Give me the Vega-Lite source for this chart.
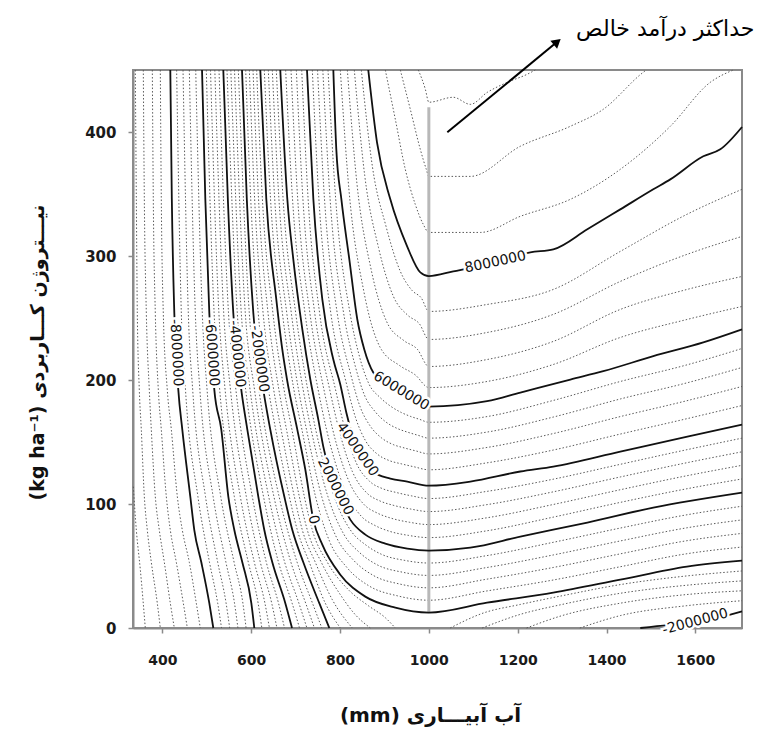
{
"$schema":"https://vega.github.io/schema/vega-lite/v6.json",
"width":609,"height":558,
"autosize":{"type":"none"},
"padding":{"left":133,"top":70,"right":27,"bottom":103},
"background":"white",
"config":{"view":{"stroke":"#8a8a8a","strokeWidth":2},"font":"DejaVu Sans"},
"datasets":{
"minor":[
{"k":"h1","x":395.5,"y":450},{"k":"h1","x":397.7,"y":346},{"k":"h1","x":402.2,"y":254},{"k":"h1","x":411.2,"y":192},{"k":"h1","x":420.3,"y":160},{"k":"h1","x":433.8,"y":106},{"k":"h1","x":445,"y":79},{"k":"h1","x":460.8,"y":53},{"k":"h1","x":476.5,"y":20},{"k":"h1","x":485.5,"y":0},
{"k":"h2","x":377.5,"y":450},{"k":"h2","x":379.7,"y":346},{"k":"h2","x":384.2,"y":254},{"k":"h2","x":391,"y":192},{"k":"h2","x":397.7,"y":160},{"k":"h2","x":409,"y":106},{"k":"h2","x":418,"y":79},{"k":"h2","x":431.5,"y":53},{"k":"h2","x":447.3,"y":20},{"k":"h2","x":456.3,"y":0},
{"k":"h3","x":357.2,"y":450},{"k":"h3","x":359.5,"y":346},{"k":"h3","x":364,"y":254},{"k":"h3","x":370.7,"y":192},{"k":"h3","x":375.2,"y":160},{"k":"h3","x":384.2,"y":106},{"k":"h3","x":393.2,"y":79},{"k":"h3","x":404.5,"y":53},{"k":"h3","x":418,"y":20},{"k":"h3","x":427,"y":0},
{"k":"h4","x":339.2,"y":450},{"k":"h4","x":341.5,"y":346},{"k":"h4","x":343.7,"y":254},{"k":"h4","x":348.2,"y":192},{"k":"h4","x":352.7,"y":160},{"k":"h4","x":359.5,"y":106},{"k":"h4","x":366.2,"y":79},{"k":"h4","x":375.2,"y":53},{"k":"h4","x":388.7,"y":20},{"k":"h4","x":395.5,"y":0},
{"k":"h5","x":334.7,"y":114},{"k":"h5","x":341.5,"y":79},{"k":"h5","x":350.5,"y":47},{"k":"h5","x":361.7,"y":0},
{"k":"d1","x":432.2,"y":450},{"k":"d1","x":442.8,"y":254},{"k":"d1","x":452.2,"y":192},{"k":"d1","x":480.1,"y":106},{"k":"d1","x":506.2,"y":53},{"k":"d1","x":524.7,"y":20},{"k":"d1","x":533.3,"y":0},
{"k":"d2","x":446.6,"y":450},{"k":"d2","x":458.5,"y":254},{"k":"d2","x":468.4,"y":192},{"k":"d2","x":497.2,"y":106},{"k":"d2","x":524.7,"y":53},{"k":"d2","x":543.6,"y":20},{"k":"d2","x":551.7,"y":0},
{"k":"d3","x":460.8,"y":450},{"k":"d3","x":474.3,"y":254},{"k":"d3","x":484.6,"y":192},{"k":"d3","x":514.4,"y":106},{"k":"d3","x":543.2,"y":53},{"k":"d3","x":562.5,"y":20},{"k":"d3","x":570.2,"y":0},
{"k":"d4","x":475.2,"y":450},{"k":"d4","x":490,"y":254},{"k":"d4","x":500.8,"y":192},{"k":"d4","x":531.5,"y":106},{"k":"d4","x":561.6,"y":53},{"k":"d4","x":581.4,"y":20},{"k":"d4","x":588.6,"y":0},
{"k":"e1","x":499,"y":450},{"k":"e1","x":516.6,"y":254},{"k":"e1","x":529.2,"y":192},{"k":"e1","x":562.1,"y":106},{"k":"e1","x":593.6,"y":53},{"k":"e1","x":615.7,"y":20},{"k":"e1","x":624,"y":0},
{"k":"e2","x":508.5,"y":450},{"k":"e2","x":527.4,"y":254},{"k":"e2","x":541.4,"y":192},{"k":"e2","x":575.6,"y":106},{"k":"e2","x":607.1,"y":53},{"k":"e2","x":631,"y":20},{"k":"e2","x":641.1,"y":0},
{"k":"e3","x":518.2,"y":450},{"k":"e3","x":538.2,"y":254},{"k":"e3","x":553.5,"y":192},{"k":"e3","x":589.1,"y":106},{"k":"e3","x":620.6,"y":53},{"k":"e3","x":646.3,"y":20},{"k":"e3","x":658,"y":0},
{"k":"e4","x":527.6,"y":450},{"k":"e4","x":549,"y":254},{"k":"e4","x":565.7,"y":192},{"k":"e4","x":602.6,"y":106},{"k":"e4","x":634.1,"y":53},{"k":"e4","x":661.6,"y":20},{"k":"e4","x":675.1,"y":0},
{"k":"g1","x":545.6,"y":450},{"k":"g1","x":568.8,"y":254},{"k":"g1","x":587.7,"y":192},{"k":"g1","x":627.8,"y":106},{"k":"g1","x":661.6,"y":53},{"k":"g1","x":692.2,"y":20},{"k":"g1","x":708.9,"y":0},
{"k":"g2","x":554.2,"y":450},{"k":"g2","x":577.8,"y":254},{"k":"g2","x":597.6,"y":192},{"k":"g2","x":639.5,"y":106},{"k":"g2","x":675.5,"y":53},{"k":"g2","x":707.5,"y":20},{"k":"g2","x":725.5,"y":0},
{"k":"g3","x":562.5,"y":450},{"k":"g3","x":586.8,"y":254},{"k":"g3","x":607.6,"y":192},{"k":"g3","x":651.2,"y":106},{"k":"g3","x":689.5,"y":53},{"k":"g3","x":722.8,"y":20},{"k":"g3","x":742.4,"y":0},
{"k":"g4","x":571.1,"y":450},{"k":"g4","x":595.8,"y":254},{"k":"g4","x":617.5,"y":192},{"k":"g4","x":662.9,"y":106},{"k":"g4","x":703.5,"y":53},{"k":"g4","x":738.1,"y":20},{"k":"g4","x":759.1,"y":0},
{"k":"n1","x":587.7,"y":450},{"k":"n1","x":599,"y":346},{"k":"n1","x":615.9,"y":254},{"k":"n1","x":639.1,"y":192},{"k":"n1","x":655.3,"y":160},{"k":"n1","x":685.9,"y":106},{"k":"n1","x":703.9,"y":79},{"k":"n1","x":730.9,"y":53},{"k":"n1","x":766.9,"y":20},{"k":"n1","x":800.7,"y":0},
{"k":"n2","x":595.9,"y":450},{"k":"n2","x":607.8,"y":346},{"k":"n2","x":626.9,"y":254},{"k":"n2","x":650.8,"y":192},{"k":"n2","x":667.4,"y":160},{"k":"n2","x":697.2,"y":106},{"k":"n2","x":715.2,"y":79},{"k":"n2","x":744.4,"y":53},{"k":"n2","x":782.7,"y":22.8},{"k":"n2","x":827.7,"y":0},
{"k":"n3","x":604.2,"y":450},{"k":"n3","x":616.6,"y":346},{"k":"n3","x":638,"y":254},{"k":"n3","x":662.5,"y":192},{"k":"n3","x":679.6,"y":160},{"k":"n3","x":708.4,"y":106},{"k":"n3","x":726.4,"y":79},{"k":"n3","x":757.9,"y":53},{"k":"n3","x":800.7,"y":26.9},{"k":"n3","x":834.5,"y":10.7},{"k":"n3","x":868.3,"y":0},
{"k":"n4","x":612.3,"y":450},{"k":"n4","x":625.3,"y":346},{"k":"n4","x":649,"y":254},{"k":"n4","x":674.2,"y":192},{"k":"n4","x":691.8,"y":160},{"k":"n4","x":719.7,"y":106},{"k":"n4","x":737.7,"y":79},{"k":"n4","x":771.5,"y":53},{"k":"n4","x":818.8,"y":30.9},{"k":"n4","x":863.8,"y":18},{"k":"n4","x":902,"y":8.3},{"k":"n4","x":924.5,"y":0},
{"k":"c1","x":629.6,"y":450},{"k":"c1","x":643.6,"y":346},{"k":"c1","x":670.1,"y":254.5},{"k":"c1","x":696.2,"y":192.3},{"k":"c1","x":714.3,"y":160},{"k":"c1","x":744.9,"y":106},{"k":"c1","x":776.4,"y":70},{"k":"c1","x":815.1,"y":49},{"k":"c1","x":866,"y":33.8},{"k":"c1","x":929.9,"y":25.9},{"k":"c1","x":1000,"y":22.4},{"k":"c1","x":1131,"y":29.9},{"k":"c1","x":1280,"y":38.7},{"k":"c1","x":1431,"y":49.4},{"k":"c1","x":1581,"y":59.9},{"k":"c1","x":1705,"y":65.3},
{"k":"c2","x":638.6,"y":450},{"k":"c2","x":653,"y":346},{"k":"c2","x":680,"y":254.5},{"k":"c2","x":706.6,"y":192.3},{"k":"c2","x":724.6,"y":160},{"k":"c2","x":758.8,"y":106},{"k":"c2","x":792.6,"y":72.7},{"k":"c2","x":829.5,"y":55},{"k":"c2","x":875,"y":42.4},{"k":"c2","x":935.3,"y":35.4},{"k":"c2","x":1000,"y":32.4},{"k":"c2","x":1131,"y":39.4},{"k":"c2","x":1280,"y":48.8},{"k":"c2","x":1431,"y":59.8},{"k":"c2","x":1581,"y":70.4},{"k":"c2","x":1705,"y":76.3},
{"k":"c3","x":647.6,"y":450},{"k":"c3","x":662.5,"y":346},{"k":"c3","x":690.2,"y":254.5},{"k":"c3","x":717,"y":192.3},{"k":"c3","x":735,"y":160},{"k":"c3","x":772.8,"y":106},{"k":"c3","x":808.8,"y":75.5},{"k":"c3","x":843.9,"y":60.9},{"k":"c3","x":884,"y":50.9},{"k":"c3","x":940.7,"y":45},{"k":"c3","x":1000,"y":42.4},{"k":"c3","x":1131,"y":48.8},{"k":"c3","x":1280,"y":58.9},{"k":"c3","x":1431,"y":70.2},{"k":"c3","x":1581,"y":80.8},{"k":"c3","x":1705,"y":87.2},
{"k":"c4","x":656.6,"y":450},{"k":"c4","x":671.9,"y":346},{"k":"c4","x":700.1,"y":254.5},{"k":"c4","x":727.3,"y":192.3},{"k":"c4","x":745.3,"y":160},{"k":"c4","x":786.7,"y":106},{"k":"c4","x":825,"y":78.2},{"k":"c4","x":858.3,"y":66.9},{"k":"c4","x":893,"y":59.5},{"k":"c4","x":946.1,"y":54.5},{"k":"c4","x":1000,"y":52.4},{"k":"c4","x":1131,"y":58.4},{"k":"c4","x":1280,"y":69.1},{"k":"c4","x":1431,"y":80.6},{"k":"c4","x":1581,"y":91.3},{"k":"c4","x":1705,"y":98.2},
{"k":"p1","x":677.6,"y":450},{"k":"p1","x":693.1,"y":346},{"k":"p1","x":721,"y":254.5},{"k":"p1","x":750.7,"y":192.3},{"k":"p1","x":769.7,"y":160},{"k":"p1","x":809.7,"y":112.7},{"k":"p1","x":847.5,"y":90.3},{"k":"p1","x":878.6,"y":82.7},{"k":"p1","x":907.9,"y":78.4},{"k":"p1","x":953.8,"y":74.7},{"k":"p1","x":1000,"y":72.9},{"k":"p1","x":1131,"y":78.4},{"k":"p1","x":1280,"y":89.4},{"k":"p1","x":1431,"y":101.3},{"k":"p1","x":1581,"y":112.3},{"k":"p1","x":1705,"y":120.2},
{"k":"p2","x":689.7,"y":450},{"k":"p2","x":704.8,"y":346},{"k":"p2","x":732,"y":254.5},{"k":"p2","x":763.8,"y":192.3},{"k":"p2","x":783.6,"y":160},{"k":"p2","x":818.7,"y":119.5},{"k":"p2","x":853.8,"y":99.7},{"k":"p2","x":884.5,"y":92.6},{"k":"p2","x":913.7,"y":88.7},{"k":"p2","x":956,"y":85.3},{"k":"p2","x":1000,"y":83.4},{"k":"p2","x":1131,"y":88.9},{"k":"p2","x":1280,"y":99.6},{"k":"p2","x":1431,"y":111.5},{"k":"p2","x":1581,"y":122.8},{"k":"p2","x":1705,"y":131.2},
{"k":"p3","x":701.7,"y":450},{"k":"p3","x":716.5,"y":346},{"k":"p3","x":742.9,"y":254.5},{"k":"p3","x":776.8,"y":192.3},{"k":"p3","x":797.6,"y":160},{"k":"p3","x":827.7,"y":126.3},{"k":"p3","x":860.1,"y":109},{"k":"p3","x":890.3,"y":102.4},{"k":"p3","x":919.6,"y":99},{"k":"p3","x":958.3,"y":96},{"k":"p3","x":1000,"y":93.9},{"k":"p3","x":1131,"y":99.5},{"k":"p3","x":1280,"y":109.8},{"k":"p3","x":1431,"y":121.8},{"k":"p3","x":1581,"y":133.3},{"k":"p3","x":1705,"y":142.1},
{"k":"p4","x":713.8,"y":450},{"k":"p4","x":728.2,"y":346},{"k":"p4","x":753.9,"y":254.5},{"k":"p4","x":789.9,"y":192.3},{"k":"p4","x":811.5,"y":160},{"k":"p4","x":836.7,"y":133.1},{"k":"p4","x":866.4,"y":118.4},{"k":"p4","x":896.2,"y":112.3},{"k":"p4","x":925.4,"y":109.4},{"k":"p4","x":960.5,"y":106.6},{"k":"p4","x":1000,"y":104.4},{"k":"p4","x":1131,"y":110.2},{"k":"p4","x":1280,"y":120},{"k":"p4","x":1431,"y":132},{"k":"p4","x":1581,"y":143.8},{"k":"p4","x":1705,"y":153.1},
{"k":"q1","x":737.7,"y":450},{"k":"q1","x":752.5,"y":346},{"k":"q1","x":779.1,"y":254.5},{"k":"q1","x":813.3,"y":198.8},{"k":"q1","x":835.4,"y":169.2},{"k":"q1","x":857,"y":151.3},{"k":"q1","x":883.1,"y":140.5},{"k":"q1","x":911,"y":135},{"k":"q1","x":938,"y":132.4},{"k":"q1","x":966.8,"y":130},{"k":"q1","x":1000,"y":127.6},{"k":"q1","x":1131,"y":133.2},{"k":"q1","x":1280,"y":143.5},{"k":"q1","x":1431,"y":156.4},{"k":"q1","x":1581,"y":168.8},{"k":"q1","x":1705,"y":179.4},
{"k":"q2","x":749.4,"y":450},{"k":"q2","x":765.1,"y":346},{"k":"q2","x":793.5,"y":254.5},{"k":"q2","x":823.7,"y":205.2},{"k":"q2","x":845.3,"y":178.4},{"k":"q2","x":868.2,"y":162.8},{"k":"q2","x":893.5,"y":153.3},{"k":"q2","x":920,"y":147.9},{"k":"q2","x":944.8,"y":145.2},{"k":"q2","x":970.9,"y":142.8},{"k":"q2","x":1000,"y":140.4},{"k":"q2","x":1131,"y":145.6},{"k":"q2","x":1280,"y":156.8},{"k":"q2","x":1431,"y":170.5},{"k":"q2","x":1581,"y":183.3},{"k":"q2","x":1705,"y":194.8},
{"k":"q3","x":761.3,"y":450},{"k":"q3","x":777.7,"y":346},{"k":"q3","x":807.9,"y":254.5},{"k":"q3","x":834,"y":211.7},{"k":"q3","x":855.2,"y":187.7},{"k":"q3","x":879.5,"y":174.3},{"k":"q3","x":903.8,"y":166},{"k":"q3","x":929,"y":160.9},{"k":"q3","x":951.5,"y":158},{"k":"q3","x":974.9,"y":155.5},{"k":"q3","x":1000,"y":153.1},{"k":"q3","x":1131,"y":158},{"k":"q3","x":1280,"y":170.1},{"k":"q3","x":1431,"y":184.7},{"k":"q3","x":1581,"y":197.7},{"k":"q3","x":1705,"y":210.1},
{"k":"q4","x":773,"y":450},{"k":"q4","x":790.3,"y":346},{"k":"q4","x":822.3,"y":254.5},{"k":"q4","x":844.4,"y":218.2},{"k":"q4","x":865.1,"y":196.9},{"k":"q4","x":890.8,"y":185.7},{"k":"q4","x":914.2,"y":178.8},{"k":"q4","x":938,"y":173.8},{"k":"q4","x":958.3,"y":170.7},{"k":"q4","x":979,"y":168.3},{"k":"q4","x":1000,"y":165.9},{"k":"q4","x":1131,"y":170.5},{"k":"q4","x":1280,"y":183.5},{"k":"q4","x":1431,"y":198.8},{"k":"q4","x":1581,"y":212.2},{"k":"q4","x":1705,"y":225.4},
{"k":"r1","x":800.7,"y":450},{"k":"r1","x":820.5,"y":352.1},{"k":"r1","x":853.4,"y":271.9},{"k":"r1","x":890.1,"y":226.5},{"k":"r1","x":934,"y":211.7},{"k":"r1","x":969.5,"y":204.1},{"k":"r1","x":1000,"y":193.9},{"k":"r1","x":1131,"y":198.8},{"k":"r1","x":1280,"y":212.5},{"k":"r1","x":1431,"y":234.3},{"k":"r1","x":1581,"y":248.8},{"k":"r1","x":1705,"y":259.3},
{"k":"r2","x":816.5,"y":450},{"k":"r2","x":838.1,"y":358.6},{"k":"r2","x":870,"y":289.3},{"k":"r2","x":905.4,"y":246.8},{"k":"r2","x":943.4,"y":231.9},{"k":"r2","x":974.1,"y":224.8},{"k":"r2","x":1000,"y":210.9},{"k":"r2","x":1131,"y":216.5},{"k":"r2","x":1280,"y":231.1},{"k":"r2","x":1431,"y":256.9},{"k":"r2","x":1581,"y":273},{"k":"r2","x":1705,"y":283.5},
{"k":"r3","x":832.2,"y":450},{"k":"r3","x":855.6,"y":365.1},{"k":"r3","x":886.7,"y":306.8},{"k":"r3","x":920.5,"y":267.2},{"k":"r3","x":952.9,"y":252.1},{"k":"r3","x":978.6,"y":245.4},{"k":"r3","x":1000,"y":232.7},{"k":"r3","x":1131,"y":238.3},{"k":"r3","x":1280,"y":252.9},{"k":"r3","x":1431,"y":279.5},{"k":"r3","x":1581,"y":301.3},{"k":"r3","x":1705,"y":315.8},
{"k":"r4","x":848,"y":450},{"k":"r4","x":873.2,"y":371.5},{"k":"r4","x":903.4,"y":324.2},{"k":"r4","x":935.8,"y":287.6},{"k":"r4","x":962.3,"y":272.2},{"k":"r4","x":983.1,"y":266.1},{"k":"r4","x":1000,"y":255.3},{"k":"r4","x":1131,"y":260.9},{"k":"r4","x":1280,"y":273},{"k":"r4","x":1431,"y":303.7},{"k":"r4","x":1581,"y":333.6},{"k":"r4","x":1705,"y":353.8},
{"k":"t1","x":902,"y":450},{"k":"t1","x":924.5,"y":410.3},{"k":"t1","x":947,"y":369.9},{"k":"t1","x":969.5,"y":341.6},{"k":"t1","x":987.5,"y":325.5},{"k":"t1","x":1000,"y":319},{"k":"t1","x":1115.9,"y":319},{"k":"t1","x":1206,"y":332},{"k":"t1","x":1318.5,"y":345.7},{"k":"t1","x":1431,"y":369.9},{"k":"t1","x":1543.6,"y":404.6},{"k":"t1","x":1633.7,"y":440.1},{"k":"t1","x":1685.4,"y":450},
{"k":"t2","x":935.8,"y":450},{"k":"t2","x":958.3,"y":418.3},{"k":"t2","x":980.8,"y":386},{"k":"t2","x":994.3,"y":369.9},{"k":"t2","x":1000,"y":364.2},{"k":"t2","x":1093.4,"y":364.2},{"k":"t2","x":1206,"y":388.5},{"k":"t2","x":1318.5,"y":404.6},{"k":"t2","x":1392.7,"y":418.3},{"k":"t2","x":1482.8,"y":448.2},{"k":"t2","x":1489.5,"y":450},
{"k":"t3","x":976.3,"y":450},{"k":"t3","x":992.1,"y":434.5},{"k":"t3","x":1000,"y":424},{"k":"t3","x":1055.1,"y":428},{"k":"t3","x":1093.4,"y":422.3},{"k":"t3","x":1131.6,"y":432},{"k":"t3","x":1176.7,"y":440.1},{"k":"t3","x":1221.7,"y":446.6},{"k":"t3","x":1239.7,"y":450},
{"k":"s1","x":1048,"y":0},{"k":"s1","x":1122,"y":12},{"k":"s1","x":1206,"y":19},{"k":"s1","x":1300,"y":26},{"k":"s1","x":1431,"y":35},{"k":"s1","x":1581,"y":42},{"k":"s1","x":1705,"y":46},
{"k":"s2","x":1120,"y":0},{"k":"s2","x":1206,"y":11},{"k":"s2","x":1300,"y":19},{"k":"s2","x":1431,"y":28},{"k":"s2","x":1581,"y":34.5},{"k":"s2","x":1705,"y":38},
{"k":"s3","x":1220,"y":0},{"k":"s3","x":1300,"y":10},{"k":"s3","x":1431,"y":20},{"k":"s3","x":1581,"y":27},{"k":"s3","x":1705,"y":30},
{"k":"s4","x":1340,"y":0},{"k":"s4","x":1431,"y":10},{"k":"s4","x":1581,"y":18},{"k":"s4","x":1705,"y":22}
],
"major":[
{"k":"m8n","x":418,"y":450},{"k":"m8n","x":421.4,"y":346},{"k":"m8n","x":427,"y":254},{"k":"m8n","x":436,"y":192},{"k":"m8n","x":445,"y":160},{"k":"m8n","x":463,"y":106},{"k":"m8n","x":472,"y":79},{"k":"m8n","x":487.8,"y":53},{"k":"m8n","x":505.8,"y":20},{"k":"m8n","x":514.8,"y":0},
{"k":"m6n","x":489.4,"y":450},{"k":"m6n","x":496.8,"y":346},{"k":"m6n","x":505.8,"y":254},{"k":"m6n","x":517.1,"y":192},{"k":"m6n","x":532.8,"y":160},{"k":"m6n","x":548.6,"y":106},{"k":"m6n","x":562.1,"y":79},{"k":"m6n","x":580.1,"y":53},{"k":"m6n","x":600.4,"y":20},{"k":"m6n","x":607.1,"y":0},
{"k":"m4n","x":537.3,"y":450},{"k":"m4n","x":547.5,"y":346},{"k":"m4n","x":559.8,"y":254},{"k":"m4n","x":577.8,"y":192},{"k":"m4n","x":591.4,"y":160},{"k":"m4n","x":616.1,"y":106},{"k":"m4n","x":629.6,"y":79},{"k":"m4n","x":647.6,"y":53},{"k":"m4n","x":676.9,"y":20},{"k":"m4n","x":692,"y":0},
{"k":"m2n","x":579.4,"y":450},{"k":"m2n","x":590.2,"y":346},{"k":"m2n","x":604.9,"y":254},{"k":"m2n","x":627.4,"y":192},{"k":"m2n","x":643.1,"y":160},{"k":"m2n","x":674.6,"y":106},{"k":"m2n","x":692.7,"y":79},{"k":"m2n","x":717.4,"y":53},{"k":"m2n","x":753.4,"y":20},{"k":"m2n","x":775.9,"y":0},
{"k":"m0","x":620.6,"y":450},{"k":"m0","x":634.1,"y":346},{"k":"m0","x":656.6,"y":265},{"k":"m0","x":670.1,"y":224.6},{"k":"m0","x":680.7,"y":200.4},{"k":"m0","x":703.9,"y":160},{"k":"m0","x":721.9,"y":127.8},{"k":"m0","x":739.9,"y":87.4},{"k":"m0","x":760.2,"y":67.2},{"k":"m0","x":800.7,"y":43},{"k":"m0","x":857,"y":25.3},{"k":"m0","x":924.5,"y":16.4},{"k":"m0","x":1000,"y":12.4},{"k":"m0","x":1131,"y":20.4},{"k":"m0","x":1280,"y":28.5},{"k":"m0","x":1431,"y":39},{"k":"m0","x":1581,"y":49.5},{"k":"m0","x":1705,"y":54.3},
{"k":"m2","x":665.6,"y":450},{"k":"m2","x":681.4,"y":346},{"k":"m2","x":694.9,"y":297.3},{"k":"m2","x":715.2,"y":240.8},{"k":"m2","x":733.2,"y":200.4},{"k":"m2","x":751.2,"y":168.1},{"k":"m2","x":762.4,"y":146.3},{"k":"m2","x":789.5,"y":114},{"k":"m2","x":823.2,"y":87.4},{"k":"m2","x":857,"y":75.3},{"k":"m2","x":902,"y":68},{"k":"m2","x":951.5,"y":64},{"k":"m2","x":1000,"y":62.4},{"k":"m2","x":1093.4,"y":64.8},{"k":"m2","x":1205.9,"y":73.7},{"k":"m2","x":1356.8,"y":85},{"k":"m2","x":1505.3,"y":97.1},{"k":"m2","x":1705,"y":109.2},
{"k":"m4","x":725.7,"y":450},{"k":"m4","x":740,"y":346},{"k":"m4","x":760.2,"y":265},{"k":"m4","x":785,"y":216.5},{"k":"m4","x":800.7,"y":196.4},{"k":"m4","x":814.2,"y":173.8},{"k":"m4","x":839,"y":143.9},{"k":"m4","x":872.7,"y":126.2},{"k":"m4","x":913.3,"y":120.5},{"k":"m4","x":951.5,"y":118.1},{"k":"m4","x":1000,"y":114.8},{"k":"m4","x":1093.4,"y":118.1},{"k":"m4","x":1205.9,"y":126.2},{"k":"m4","x":1280.2,"y":130.2},{"k":"m4","x":1431,"y":142.3},{"k":"m4","x":1582,"y":154.4},{"k":"m4","x":1705,"y":164.1},
{"k":"m6","x":785,"y":450},{"k":"m6","x":791.7,"y":386},{"k":"m6","x":803,"y":346},{"k":"m6","x":821,"y":297.3},{"k":"m6","x":839,"y":248.8},{"k":"m6","x":854.7,"y":224.6},{"k":"m6","x":875,"y":206},{"k":"m6","x":905,"y":197},{"k":"m6","x":938,"y":190.7},{"k":"m6","x":969.6,"y":182.6},{"k":"m6","x":1000,"y":178.6},{"k":"m6","x":1131,"y":182.9},{"k":"m6","x":1206,"y":189.9},{"k":"m6","x":1318.5,"y":200.4},{"k":"m6","x":1392.7,"y":207.1},{"k":"m6","x":1505.3,"y":219.2},{"k":"m6","x":1617.9,"y":230.3},{"k":"m6","x":1705,"y":240.8},
{"k":"m8","x":863.7,"y":450},{"k":"m8","x":883.3,"y":391.7},{"k":"m8","x":913.3,"y":345.7},{"k":"m8","x":950.9,"y":308},{"k":"m8","x":980.8,"y":286.8},{"k":"m8","x":1000,"y":283.8},{"k":"m8","x":1055,"y":287.6},{"k":"m8","x":1149.6,"y":294.8},{"k":"m8","x":1228.4,"y":302.9},{"k":"m8","x":1280.2,"y":305.3},{"k":"m8","x":1356.8,"y":321.5},{"k":"m8","x":1431,"y":337.6},{"k":"m8","x":1505.3,"y":353.8},{"k":"m8","x":1543.6,"y":361.8},{"k":"m8","x":1617.9,"y":380.4},{"k":"m8","x":1656.2,"y":386},{"k":"m8","x":1705,"y":404},
{"k":"m2nr","x":1476,"y":0},{"k":"m2nr","x":1540,"y":2.5},{"k":"m2nr","x":1600,"y":5.5},{"k":"m2nr","x":1660,"y":9},{"k":"m2nr","x":1705,"y":13.4}
],
"lab":[
{"t":"-8000000","x":431.5,"y":222,"a":87},
{"t":"-6000000","x":511.5,"y":222,"a":86},
{"t":"-4000000","x":568,"y":221,"a":84},
{"t":"-2000000","x":618.4,"y":217,"a":82},
{"t":"0","x":739.9,"y":87.4,"a":77},
{"t":"2000000","x":789.5,"y":114,"a":63},
{"t":"4000000","x":839,"y":144,"a":55},
{"t":"6000000","x":938,"y":191,"a":31},
{"t":"8000000","x":1150,"y":295,"a":-12},
{"t":"-2000000","x":1600,"y":5,"a":-15}
]
},
"encoding":{
"x":{"field":"x","type":"quantitative","scale":{"domain":[334,1705],"nice":false,"zero":false},
"axis":{"values":[400,600,800,1000,1200,1400,1600],"format":"d","title":"(mm) آب آبیـــاری","grid":false,"domainColor":"#8a8a8a","domainWidth":2,"tickColor":"#8a8a8a","tickWidth":1.5,"tickSize":5,"labelFont":"DejaVu Sans","labelFontWeight":"bold","labelFontSize":14,"labelColor":"#1a1a1a","labelPadding":20,"titleFont":"DejaVu Sans","titleFontSize":20,"titleFontWeight":"bold","titleColor":"#111","titleX":297,"titleY":87,"titleBaseline":"middle","titleAlign":"center"}},
"y":{"field":"y","type":"quantitative","scale":{"domain":[0,450],"nice":false,"zero":false},
"axis":{"values":[0,100,200,300,400],"format":"d","title":"(kg ha⁻¹) نیـــتروژن کـــاربردی","grid":false,"domainColor":"#8a8a8a","domainWidth":2,"tickColor":"#8a8a8a","tickWidth":1.5,"tickSize":5,"labelFont":"DejaVu Sans","labelFontWeight":"bold","labelFontSize":15,"labelColor":"#1a1a1a","labelPadding":12,"titleFont":"DejaVu Sans","titleFontSize":19,"titleFontWeight":"bold","titleColor":"#111","titleX":-96,"titleY":282,"titleAngle":270,"titleBaseline":"middle","titleAlign":"center"}}
},
"layer":[
{"data":{"name":"minor"},"mark":{"type":"line","stroke":"#5a5a5a","strokeWidth":1,"strokeDash":[1.5,2],"interpolate":"monotone"},"encoding":{"detail":{"field":"k"}}},
{"data":{"values":[{"x":1000,"y":12,"y2":420}]},"mark":{"type":"rule","stroke":"#b8b8b8","strokeWidth":3},"encoding":{"y2":{"field":"y2"}}},
{"data":{"name":"major"},"mark":{"type":"line","stroke":"#111","strokeWidth":1.8,"interpolate":"monotone"},"encoding":{"detail":{"field":"k"}}},
{"data":{"name":"lab"},"mark":{"type":"text","font":"DejaVu Sans","fontSize":14,"align":"center","baseline":"middle","fill":"white","stroke":"white","strokeWidth":5},"encoding":{"text":{"field":"t"},"angle":{"field":"a","type":"quantitative","scale":null}}},
{"data":{"name":"lab"},"mark":{"type":"text","font":"DejaVu Sans","fontSize":14,"align":"center","baseline":"middle","fill":"#111"},"encoding":{"text":{"field":"t"},"angle":{"field":"a","type":"quantitative","scale":null}}},
{"data":{"values":[{"x":1041.6,"y":399.8,"x2":1289,"y2":472.7}]},"mark":{"type":"rule","stroke":"black","strokeWidth":2},"encoding":{"x2":{"field":"x2"},"y2":{"field":"y2"}}},
{"data":{"values":[{"x":1289,"y":472.7}]},"mark":{"type":"point","shape":"triangle-up","filled":true,"fill":"black","opacity":1,"size":110,"angle":50},"encoding":{}},
{"data":{"values":[{"x":1532,"y":483,"t":"حداکثر درآمد خالص"}]},"mark":{"type":"text","font":"DejaVu Sans","fontSize":22,"align":"center","baseline":"middle","fill":"black"},"encoding":{"text":{"field":"t"}}}
]
}
